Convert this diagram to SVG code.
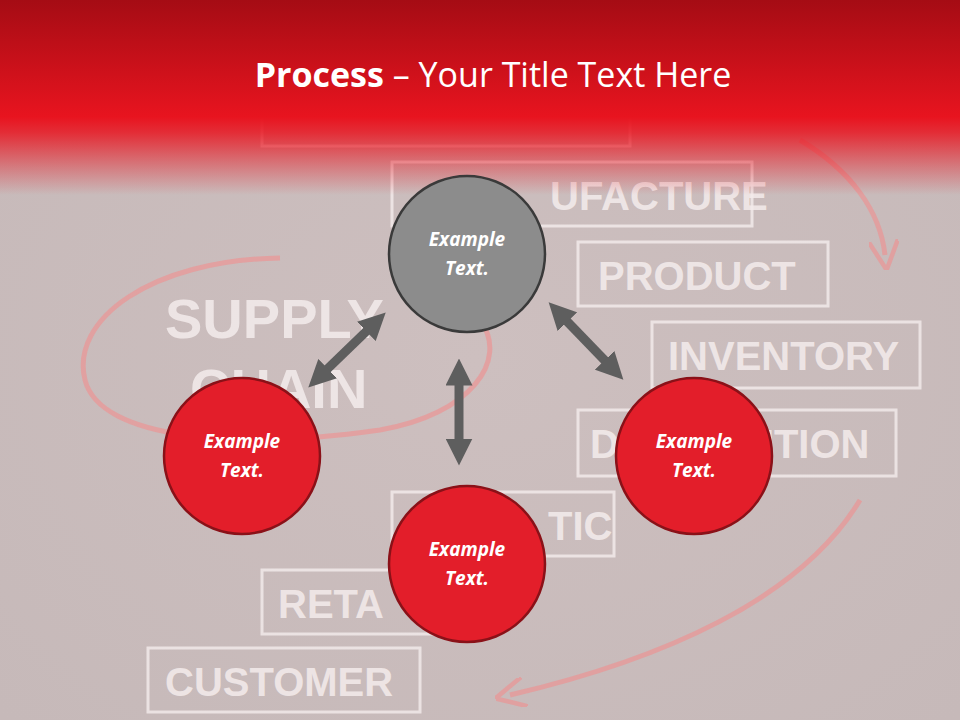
<svg xmlns="http://www.w3.org/2000/svg" width="960" height="720" viewBox="0 0 960 720">
<defs>
<linearGradient id="hdr" x1="0" y1="0" x2="0" y2="1">
<stop offset="0" stop-color="#a50c14"/>
<stop offset="0.6" stop-color="#e8141f"/>
<stop offset="0.68" stop-color="#e8141f" stop-opacity="0.85"/>
<stop offset="1" stop-color="#e8141f" stop-opacity="0"/>
</linearGradient>
<radialGradient id="bg" cx="0.5" cy="0.5" r="0.7">
<stop offset="0" stop-color="#cdbfbf"/>
<stop offset="1" stop-color="#c6b9b9"/>
</radialGradient>
<marker id="ah" viewBox="0 0 10 10" refX="5" refY="5" markerWidth="3" markerHeight="3" orient="auto-start-reverse">
<path d="M0,0 L10,5 L0,10 z" fill="#5e5e5e"/>
</marker>
<marker id="rh" viewBox="0 0 10 10" refX="5" refY="5" markerWidth="6" markerHeight="6" orient="auto">
<path d="M0,0 L10,5 L0,10" fill="none" stroke="#e79a9a" stroke-width="1.5"/>
</marker>
</defs>
<style>
.chalk{font-family:"Liberation Sans",sans-serif;fill:#f4ecec;font-weight:bold;opacity:0.85}
.box{fill:none;stroke:#f4ecec;stroke-width:3;opacity:0.8}
.circ{stroke-width:2.5}
.lbl{font-family:"Open Sans","Liberation Sans",sans-serif;font-style:italic;font-weight:bold;font-size:19px;fill:#fff;text-anchor:middle}
.arr{stroke:#5e5e5e;stroke-width:9;fill:none;marker-start:url(#ah);marker-end:url(#ah)}
</style>
<rect width="960" height="720" fill="url(#bg)"/>
<g id="background">
<rect class="box" x="262" y="108" width="368" height="38"/>
<rect class="box" x="392" y="162" width="360" height="64"/>
<text class="chalk" x="550" y="210" font-size="40">UFACTURE</text>
<rect class="box" x="578" y="242" width="250" height="64"/>
<text class="chalk" x="598" y="290" font-size="40">PRODUCT</text>
<rect class="box" x="652" y="322" width="268" height="66"/>
<text class="chalk" x="668" y="370" font-size="40">INVENTORY</text>
<rect class="box" x="578" y="410" width="318" height="66"/>
<text class="chalk" x="590" y="458" font-size="40">D</text>
<text class="chalk" x="745" y="458" font-size="40">UTION</text>
<rect class="box" x="392" y="492" width="222" height="64"/>
<text class="chalk" x="548" y="540" font-size="40">TIC</text>
<rect class="box" x="262" y="570" width="190" height="64"/>
<text class="chalk" x="278" y="618" font-size="40">RETA</text>
<rect class="box" x="148" y="648" width="272" height="64"/>
<text class="chalk" x="165" y="696" font-size="40">CUSTOMER</text>
<text class="chalk" x="165" y="338" font-size="56">SUPPLY</text>
<text class="chalk" x="190" y="408" font-size="56">CHAIN</text>
<path d="M280,258 C150,260 70,320 85,380 C100,440 240,450 380,430 C470,415 510,360 480,320" fill="none" stroke="#e79a9a" stroke-width="5" opacity="0.8"/>
<path d="M800,140 C850,170 880,210 885,255" fill="none" stroke="#e79a9a" stroke-width="5" marker-end="url(#rh)" opacity="0.8"/>
<path d="M860,500 C800,600 660,660 510,695" fill="none" stroke="#e79a9a" stroke-width="5" marker-end="url(#rh)" opacity="0.8"/>
</g>
<rect width="960" height="195" fill="url(#hdr)"/>
<text x="493" y="87" text-anchor="middle" font-family="Open Sans, Liberation Sans, sans-serif" font-size="34" fill="#fff"><tspan font-weight="bold">Process</tspan> – Your Title Text Here</text>
<g id="connectors">
<line class="arr" x1="376" y1="322" x2="318" y2="378"/>
<line class="arr" x1="558" y1="312" x2="614" y2="370"/>
<line class="arr" x1="459" y1="372" x2="459" y2="452"/>
</g>
<g id="n-top"><circle class="circ" cx="467" cy="254" r="78" fill="#8c8c8c" stroke="#3a3a3a"/><text class="lbl" x="467" y="246">Example</text><text class="lbl" x="467" y="275">Text.</text></g>
<g id="n-left"><circle class="circ" cx="242" cy="456" r="78" fill="#e31e2a" stroke="#8a1118"/><text class="lbl" x="242" y="448">Example</text><text class="lbl" x="242" y="477">Text.</text></g>
<g id="n-right"><circle class="circ" cx="694" cy="456" r="78" fill="#e31e2a" stroke="#8a1118"/><text class="lbl" x="694" y="448">Example</text><text class="lbl" x="694" y="477">Text.</text></g>
<g id="n-bottom"><circle class="circ" cx="467" cy="564" r="78" fill="#e31e2a" stroke="#8a1118"/><text class="lbl" x="467" y="556">Example</text><text class="lbl" x="467" y="585">Text.</text></g>
</svg>
